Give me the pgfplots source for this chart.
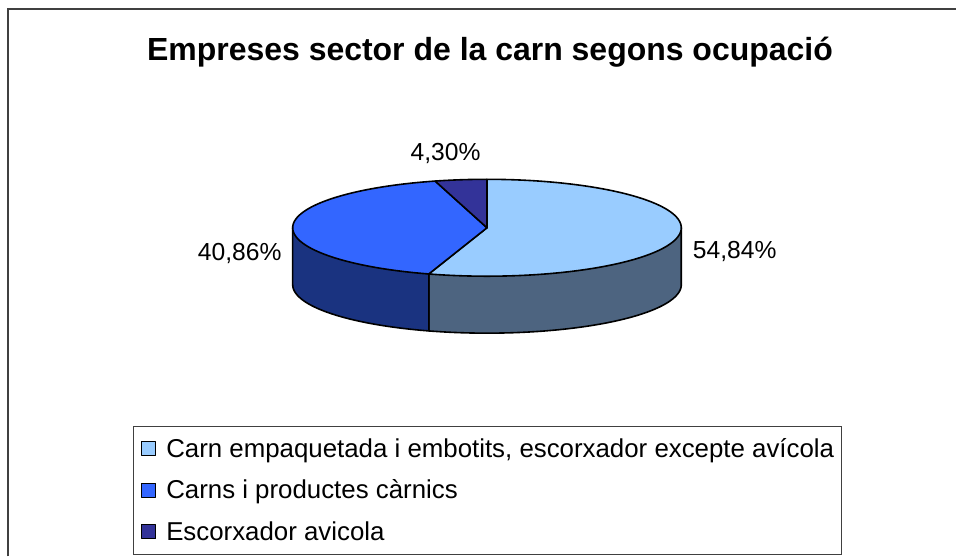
\documentclass[border=0pt]{standalone}
\usepackage{fontspec}
\setmainfont{Liberation Sans}
\usepackage{pgfplots}
\usepackage{pgfplotstable}
\pgfplotsset{compat=1.18}

\definecolor{sliceA}{HTML}{99CCFF}
\definecolor{sliceB}{HTML}{3366FF}
\definecolor{sliceC}{HTML}{333399}
\definecolor{sideA}{HTML}{4D6480}
\definecolor{sideB}{HTML}{1A3380}
\definecolor{framecol}{HTML}{404040}

% shares in percent, clockwise from 12 o'clock
\pgfplotstableread{
sector share
A 54.84
B 40.86
C 4.30
}\piedata
\pgfplotstablegetelem{0}{share}\of\piedata \let\sa\pgfplotsretval
\pgfplotstablegetelem{1}{share}\of\piedata \let\sb\pgfplotsretval
\pgfplotstablegetelem{2}{share}\of\piedata \let\sc\pgfplotsretval

% pie geometry, in pixels, y upward
\def\cx{487.5}\def\cy{329}\def\rx{194.5}\def\ry{48.5}\def\dep{57}
\pgfmathsetmacro\aA{90-3.6*\sa}
\pgfmathsetmacro\aB{\aA-3.6*\sb}
\pgfmathsetmacro\aC{\aB-3.6*\sc}
\pgfmathsetmacro\xA{\cx+\rx*cos(\aA)}
\pgfmathsetmacro\yA{\cy+\ry*sin(\aA)}
\pgfmathsetmacro\xR{\cx+\rx}
\pgfmathsetmacro\xL{\cx-\rx}

\begin{document}
\begin{tikzpicture}
\begin{axis}[
    x=0.75pt, y=0.75pt,
    xmin=0, xmax=957, ymin=0, ymax=557,
    hide axis, clip=false,
    legend cell align=left,
    legend style={at={(0.1395,0.2352)}, anchor=north west,
        draw=framecol, line width=0.8pt,
        font=\fontsize{19.4}{23}\selectfont,
        inner xsep=5.5pt, inner ysep=7.6pt,
        row sep=12.1pt, column sep=7.5pt,
        nodes={inner sep=0pt, text height=16pt, text depth=3pt}},
    legend image code/.code={\draw[#1, line width=0.8pt] (0pt,-5.2pt) rectangle (10.5pt,5.2pt);},
    every axis plot/.append style={draw=black, line width=1.2pt, line join=round},
]
\path (rel axis cs:0,0) rectangle (rel axis cs:1,1);

% front sides
\addplot[fill=sideA, domain=\aA:0, samples=80, forget plot]
    ({\cx+\rx*cos(x)}, {\cy-\dep+\ry*sin(x)}) -- (axis cs:\xR,\cy) -- (axis cs:\xA,\yA) -- cycle;
\addplot[fill=sideB, domain=-180:\aA, samples=60, forget plot]
    ({\cx+\rx*cos(x)}, {\cy-\dep+\ry*sin(x)}) -- (axis cs:\xA,\yA) -- (axis cs:\xL,\cy) -- cycle;

% top faces
\addplot[fill=sliceA, domain=\aA:90, samples=120]
    ({\cx+\rx*cos(x)}, {\cy+\ry*sin(x)}) -- (axis cs:\cx,\cy) -- cycle;
\addplot[fill=sliceB, domain=\aB:\aA, samples=100]
    ({\cx+\rx*cos(x)}, {\cy+\ry*sin(x)}) -- (axis cs:\cx,\cy) -- cycle;
\addplot[fill=sliceC, domain=\aC:\aB, samples=20]
    ({\cx+\rx*cos(x)}, {\cy+\ry*sin(x)}) -- (axis cs:\cx,\cy) -- cycle;

\legend{{Carn empaquetada i embotits, escorxador excepte avícola},
        {Carns i productes càrnics}, {Escorxador avicola}}

% value labels
\node[font=\fontsize{18.5}{22}\selectfont] at (axis cs:735.5,305.5) {54,84\%};
\node[font=\fontsize{18.5}{22}\selectfont] at (axis cs:240,303) {40,86\%};
\node[font=\fontsize{18.5}{22}\selectfont] at (axis cs:446,403) {4,30\%};

% title and chart frame
\node[font=\bfseries\fontsize{24}{28}\selectfont] at (axis cs:490.5,505) {Empreses sector de la carn segons ocupació};
\draw[framecol, line width=1.5pt] (axis cs:8,0) -- (axis cs:8,548) -- (axis cs:957,548);
\end{axis}
\end{tikzpicture}
\end{document}
